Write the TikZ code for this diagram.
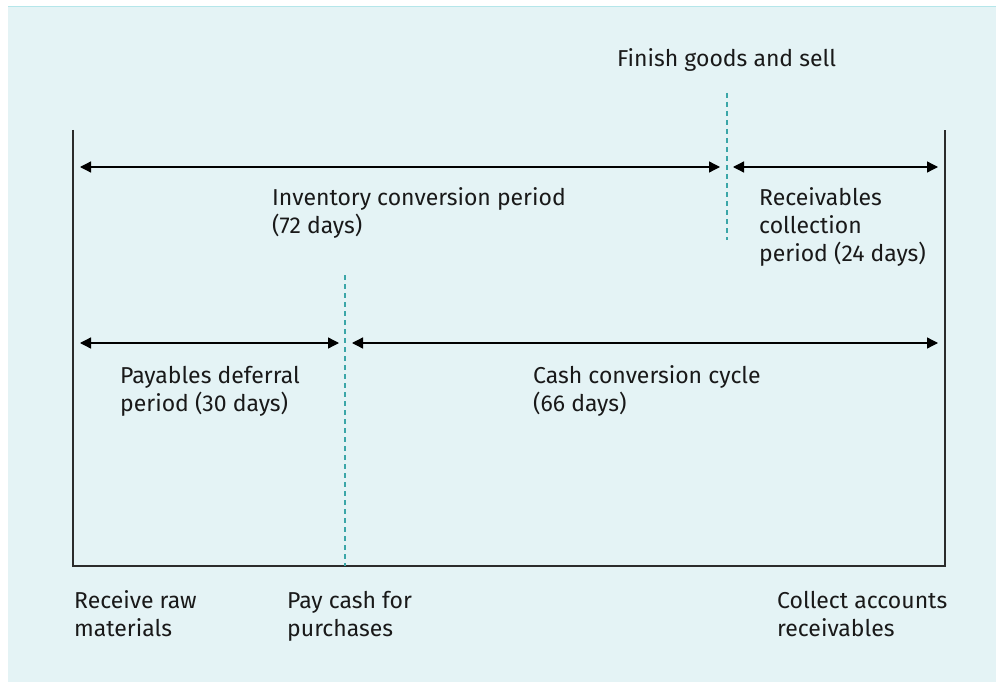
\documentclass[tikz,border=0pt]{standalone}
\usepackage{fontspec}
\setmainfont{Fira Sans}
\usetikzlibrary{arrows.meta}
\definecolor{bgblue}{HTML}{E4F3F5}
\definecolor{topline}{HTML}{B5E6EA}
\definecolor{dashteal}{HTML}{3BA6A8}
\definecolor{axisgray}{HTML}{2B2B2B}
\tikzstyle{axis} = [draw=axisgray, line width=1.3pt]
\tikzstyle{span} = [draw=black, line width=1.3pt, {Triangle[length=11pt,width=11pt]}-{Triangle[length=11pt,width=11pt]}]
\tikzstyle{marker} = [draw=dashteal, line width=1.2pt, dash pattern=on 5pt off 4pt]
\tikzstyle{txt} = [anchor=base west, align=left, inner sep=0pt, text=black!90, font=\fontsize{23}{28}\selectfont]

\begin{document}
\begin{tikzpicture}[x=1pt,y=-1pt]
\useasboundingbox (0,0) rectangle (996,682);
\fill[bgblue] (8,6) rectangle (996,682);
\draw[topline, line width=1.5pt] (8,6.5) -- (996,6.5);

% frame of the time line
\coordinate (lt) at (73,130);
\coordinate (lb) at (73,566);
\coordinate (rt) at (945,130);
\coordinate (rb) at (945,566);
\draw[axis] (lt) -- (lb) -- (rb) -- (rt);

% event markers
\coordinate (sellTop) at (727,93);
\coordinate (sellBot) at (727,240);
\coordinate (payTop) at (345,275);
\coordinate (payBot) at (345,566);
\draw[marker] (sellTop) -- (sellBot);
\draw[marker] (payTop) -- (payBot);

% periods
\coordinate (invL) at (80,167);
\coordinate (invR) at (720,167);
\coordinate (recL) at (733,167);
\coordinate (recR) at (938,167);
\coordinate (payL) at (80,343);
\coordinate (payR) at (339,343);
\coordinate (cccL) at (352,343);
\coordinate (cccR) at (938,343);
\draw[span] (invL) -- (invR);
\draw[span] (recL) -- (recR);
\draw[span] (payL) -- (payR);
\draw[span] (cccL) -- (cccR);

% texts (anchored at the baseline of the last line)
\node[txt] (finish) at (617,67) {Finish goods and sell};
\node[txt] (inv) at (272,233) {Inventory conversion period\\(72 days)};
\node[txt] (rec) at (759,261) {Receivables\\collection\\period (24 days)};
\node[txt] (pay) at (120,411) {Payables deferral\\period (30 days)};
\node[txt] (ccc) at (533,411) {Cash conversion cycle\\(66 days)};
\node[txt] (raw) at (74,636) {Receive raw\\materials};
\node[txt] (cash) at (287,636) {Pay cash for\\purchases};
\node[txt] (collect) at (777,636) {Collect accounts\\receivables};
\end{tikzpicture}
\end{document}
